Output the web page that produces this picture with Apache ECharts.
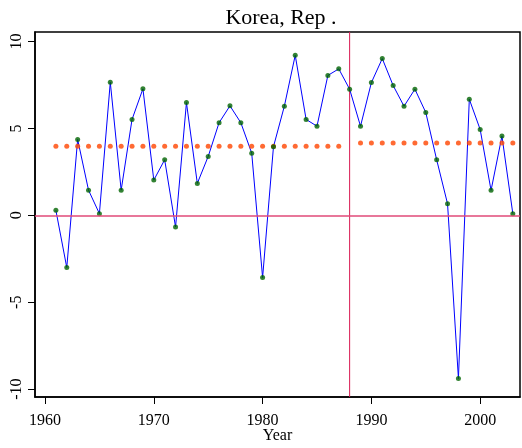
<!DOCTYPE html>
<html>
<head>
<meta charset="utf-8">
<script src="https://cdn.jsdelivr.net/npm/echarts@6/dist/echarts.min.js"></script>
<style>
  html, body { margin: 0; padding: 0; background: #fff; }
  #chart { width: 522px; height: 448px; }
</style>
</head>
<body>
<div id="chart"></div>
<script>
// years and growth values
var years = [1961, 1962, 1963, 1964, 1965, 1966, 1967, 1968, 1969, 1970,
             1971, 1972, 1973, 1974, 1975, 1976, 1977, 1978, 1979, 1980,
             1981, 1982, 1983, 1984, 1985, 1986, 1987, 1988, 1989, 1990,
             1991, 1992, 1993, 1994, 1995, 1996, 1997, 1998, 1999, 2000,
             2001, 2002, 2003];
var growth = [0.29, -3.0, 4.37, 1.45, 0.1, 7.66, 1.45, 5.52, 7.28, 2.03,
              3.2, -0.67, 6.49, 1.84, 3.39, 5.33, 6.3, 5.33, 3.58, -3.58,
              3.95, 6.28, 9.21, 5.52, 5.13, 8.05, 8.43, 7.26, 5.13, 7.64,
              9.02, 7.47, 6.28, 7.26, 5.92, 3.2, 0.67, -9.39, 6.68, 4.94,
              1.44, 4.56, 0.1];
// period averages (dotted orange)
var meanBeforeYears = [1961, 1987];
var meanBefore = 3.97;
var meanAfterYears = [1989, 2003];
var meanAfter = 4.16;
var breakYear = 1988;
var xTicks = [1960, 1970, 1980, 1990, 2000];
var yTicks = [-10, -5, 0, 5, 10];
var yMin = -10.45, yMax = 10.55;

var chart = echarts.init(document.getElementById('chart'));

var points = years.map(function (y, i) { return [y, growth[i]]; });
var meanPoints = [];
years.forEach(function (y) {
  if (y >= meanBeforeYears[0] && y <= meanBeforeYears[1]) meanPoints.push([y, meanBefore]);
  if (y >= meanAfterYears[0] && y <= meanAfterYears[1]) meanPoints.push([y, meanAfter]);
});

var serif = 'Liberation Serif';

var option = {
  backgroundColor: '#fff',
  animation: false,
  title: {
    text: 'Korea, Rep .',
    left: 276,
    textAlign: 'center',
    top: 2,
    textStyle: { fontFamily: serif, fontSize: 22, fontWeight: 'normal', color: '#000' }
  },
  grid: {
    left: 35, right: 2, top: 32, bottom: 51,
    outerBoundsMode: 'none',
    show: true, borderColor: '#000', borderWidth: 1.5
  },
  xAxis: {
    type: 'value',
    min: 1959.08,
    max: 2003.66,
    name: 'Year',
    nameLocation: 'middle',
    nameGap: 31,
    nameMoveOverlap: false,
    nameTextStyle: { fontFamily: serif, fontSize: 16, color: '#000' },
    axisLine: { show: true, onZero: false, lineStyle: { color: '#000', width: 1.5 } },
    axisTick: { show: true, length: 7, customValues: xTicks, lineStyle: { color: '#000' } },
    axisLabel: {
      customValues: xTicks,
      formatter: function (v) { return String(v); },
      fontFamily: serif, fontSize: 16, color: '#000', margin: 16
    },
    splitLine: { show: false }
  },
  yAxis: {
    type: 'value',
    min: yMin,
    max: yMax,
    axisLine: { show: true, onZero: false, lineStyle: { color: '#000', width: 1.5 } },
    axisTick: { show: true, length: 7, customValues: yTicks, lineStyle: { color: '#000' } },
    axisLabel: { customValues: yTicks, rotate: 90, fontFamily: serif, fontSize: 16, color: '#000', margin: 10 },
    splitLine: { show: false }
  },
  series: [
    {
      // vertical break line
      type: 'line',
      data: [[breakYear, yMin], [breakYear, yMax]],
      symbol: 'none',
      silent: true,
      lineStyle: { color: '#d81850', width: 1 },
      z: 1
    },
    {
      type: 'line',
      data: points,
      symbol: 'none',
      lineStyle: { color: '#0000ff', width: 1 },
      z: 2,
      markLine: {
        silent: true,
        symbol: 'none',
        label: { show: false },
        lineStyle: { color: '#e04a78', width: 1.5, type: 'solid' },
        data: [{ yAxis: 0 }]
      }
    },
    {
      type: 'scatter',
      data: meanPoints,
      symbol: 'circle',
      symbolSize: 5,
      itemStyle: { color: '#ff4500' },
      z: 3
    },
    {
      type: 'scatter',
      data: points,
      symbol: 'circle',
      symbolSize: 5,
      itemStyle: { color: '#006400' },
      z: 4
    }
  ]
};

chart.setOption(option);
</script>
</body>
</html>
